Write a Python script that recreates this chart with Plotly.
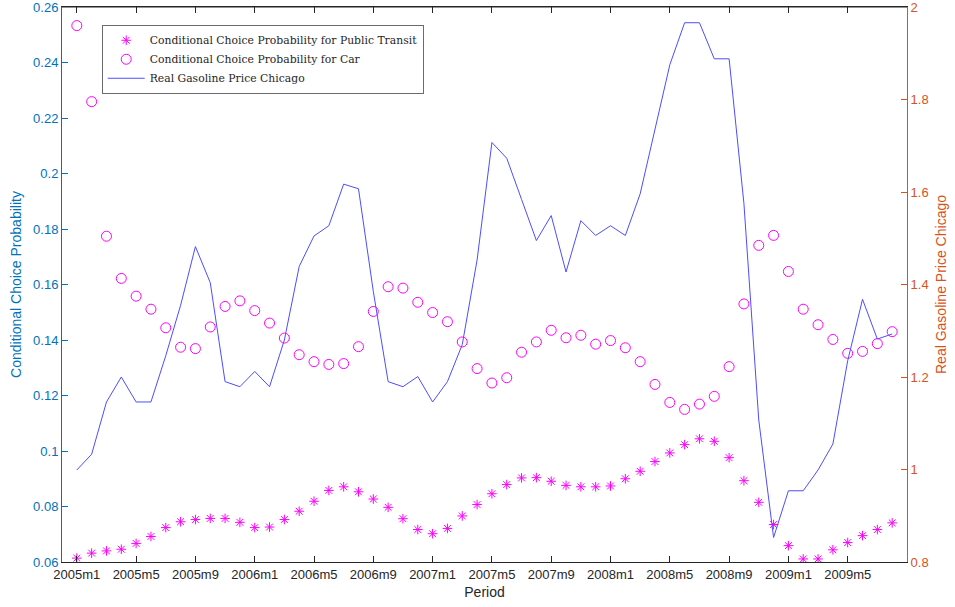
import plotly.graph_objects as go

periods = ["%dm%d" % (y, m) for y in range(2005, 2010) for m in range(1, 13)][:56]

transit = [0.0614, 0.0632, 0.0640, 0.0646, 0.0667, 0.0692, 0.0724, 0.0745, 0.0753, 0.0757,
           0.0757, 0.0743, 0.0724, 0.0726, 0.0753, 0.0783, 0.0819, 0.0858, 0.0871, 0.0853,
           0.0827, 0.0797, 0.0756, 0.0717, 0.0702, 0.0721, 0.0766, 0.0807, 0.0846, 0.0879,
           0.0903, 0.0904, 0.0891, 0.0876, 0.0871, 0.0871, 0.0874, 0.0900, 0.0927, 0.0962,
           0.0993, 0.1023, 0.1044, 0.1035, 0.0976, 0.0893, 0.0815, 0.0735, 0.0659, 0.0611,
           0.0611, 0.0644, 0.0670, 0.0695, 0.0717, 0.0741]

car = [0.2533, 0.2259, 0.1774, 0.1622, 0.1558, 0.1511, 0.1444, 0.1374, 0.1369, 0.1447,
       0.1521, 0.1541, 0.1506, 0.1461, 0.1407, 0.1347, 0.1322, 0.1312, 0.1315, 0.1376,
       0.1503, 0.1592, 0.1587, 0.1536, 0.1499, 0.1466, 0.1393, 0.1297, 0.1245, 0.1264,
       0.1356, 0.1393, 0.1435, 0.1408, 0.1417, 0.1385, 0.1398, 0.1372, 0.1322, 0.1240,
       0.1175, 0.1150, 0.1169, 0.1197, 0.1304, 0.1530, 0.1741, 0.1777, 0.1647, 0.1511,
       0.1455, 0.1402, 0.1352, 0.1359, 0.1387, 0.1430]

gas = [0.999, 1.033, 1.146, 1.200, 1.146, 1.146, 1.246, 1.355, 1.482, 1.404,
       1.190, 1.179, 1.212, 1.179, 1.280, 1.439, 1.505, 1.527, 1.617, 1.607,
       1.385, 1.190, 1.179, 1.201, 1.146, 1.190, 1.270, 1.453, 1.707, 1.673,
       1.584, 1.495, 1.549, 1.427, 1.538, 1.506, 1.527, 1.506, 1.596, 1.736,
       1.875, 1.966, 1.966, 1.888, 1.888, 1.575, 1.107, 0.853, 0.954, 0.954,
       0.999, 1.055, 1.235, 1.368, 1.282, 1.293]

left_ticks = [0.06, 0.08, 0.10, 0.12, 0.14, 0.16, 0.18, 0.20, 0.22, 0.24, 0.26]
left_labels = ["0.06", "0.08", "0.1", "0.12", "0.14", "0.16", "0.18", "0.2", "0.22", "0.24", "0.26"]
right_ticks = [0.8, 1.0, 1.2, 1.4, 1.6, 1.8, 2.0]
right_labels = ["0.8", "1", "1.2", "1.4", "1.6", "1.8", "2"]

xidx = list(range(len(periods)))
xtick_idx = list(range(0, len(periods), 4))
xtick_labels = [periods[i] for i in xtick_idx]

BLUE = "#0072BD"
ORANGE = "#D95319"
AX = "#262626"

fig = go.Figure()
fig.add_trace(go.Scatter(x=xidx, y=transit, mode="markers", name="Conditional Choice Probability for Public Transit",
                         marker=dict(symbol="asterisk-open", size=8, color="#FF00FF",
                                     line=dict(color="#FF00FF", width=1))))
fig.add_trace(go.Scatter(x=xidx, y=car, mode="markers", name="Conditional Choice Probability for Car",
                         marker=dict(symbol="circle-open", size=10, color="#FF00FF",
                                     line=dict(color="#FF00FF", width=1))))
fig.add_trace(go.Scatter(x=xidx, y=gas, mode="lines", name="Real Gasoline Price Chicago", yaxis="y2",
                         line=dict(color="#4D4DFF", width=1)))

fig.update_layout(
    width=955, height=607,
    margin=dict(l=62, r=48, t=7, b=45, autoexpand=False),
    paper_bgcolor="white", plot_bgcolor="white",
    font=dict(family="Liberation Sans, Arial", size=13, color=AX),
    showlegend=True,
    legend=dict(x=0.047, y=0.968, xanchor="left", yanchor="top",
                bgcolor="white", bordercolor="#6b6b6b", borderwidth=1,
                font=dict(family="DejaVu Serif, Liberation Serif", size=10.8, color="#262626"),
                tracegroupgap=0, itemwidth=37),
    xaxis=dict(range=[-1, 56], tickmode="array", tickvals=xtick_idx, ticktext=xtick_labels,
               showgrid=False, zeroline=False, showline=True, linecolor=AX, linewidth=1,
               mirror="ticks", ticks="inside", ticklen=6, tickcolor=AX,
               tickfont=dict(size=13, color=AX), ticklabeloverflow="allow",
               title=dict(text="Period", font=dict(size=14, color=AX), standoff=6)),
    yaxis=dict(range=[0.06, 0.26], tickmode="array", tickvals=left_ticks, ticktext=left_labels,
               showgrid=False, zeroline=False, showline=True, linecolor=BLUE, linewidth=1,
               ticks="inside", ticklen=6, tickcolor=BLUE, ticklabeloverflow="allow",
               tickfont=dict(size=13, color=BLUE),
               title=dict(text="Conditional Choice Probability", font=dict(size=14, color=BLUE), standoff=8)),
    yaxis2=dict(range=[0.8, 2.0], tickmode="array", tickvals=right_ticks, ticktext=right_labels,
                overlaying="y", side="right",
                showgrid=False, zeroline=False, showline=True, linecolor=ORANGE, linewidth=1,
                ticks="inside", ticklen=6, tickcolor=ORANGE, ticklabeloverflow="allow",
                tickfont=dict(size=13, color=ORANGE),
                title=dict(text="Real Gasoline Price Chicago", font=dict(size=14, color=ORANGE), standoff=8)),
)
# top border line of the box
fig.add_shape(type="line", xref="paper", yref="paper", x0=0, x1=1, y0=1, y1=1,
              line=dict(color=AX, width=1))

fig.write_html("out.html", config={"displayModeBar": False},
               post_script="document.body.style.margin='0';document.body.style.overflow='hidden';")
